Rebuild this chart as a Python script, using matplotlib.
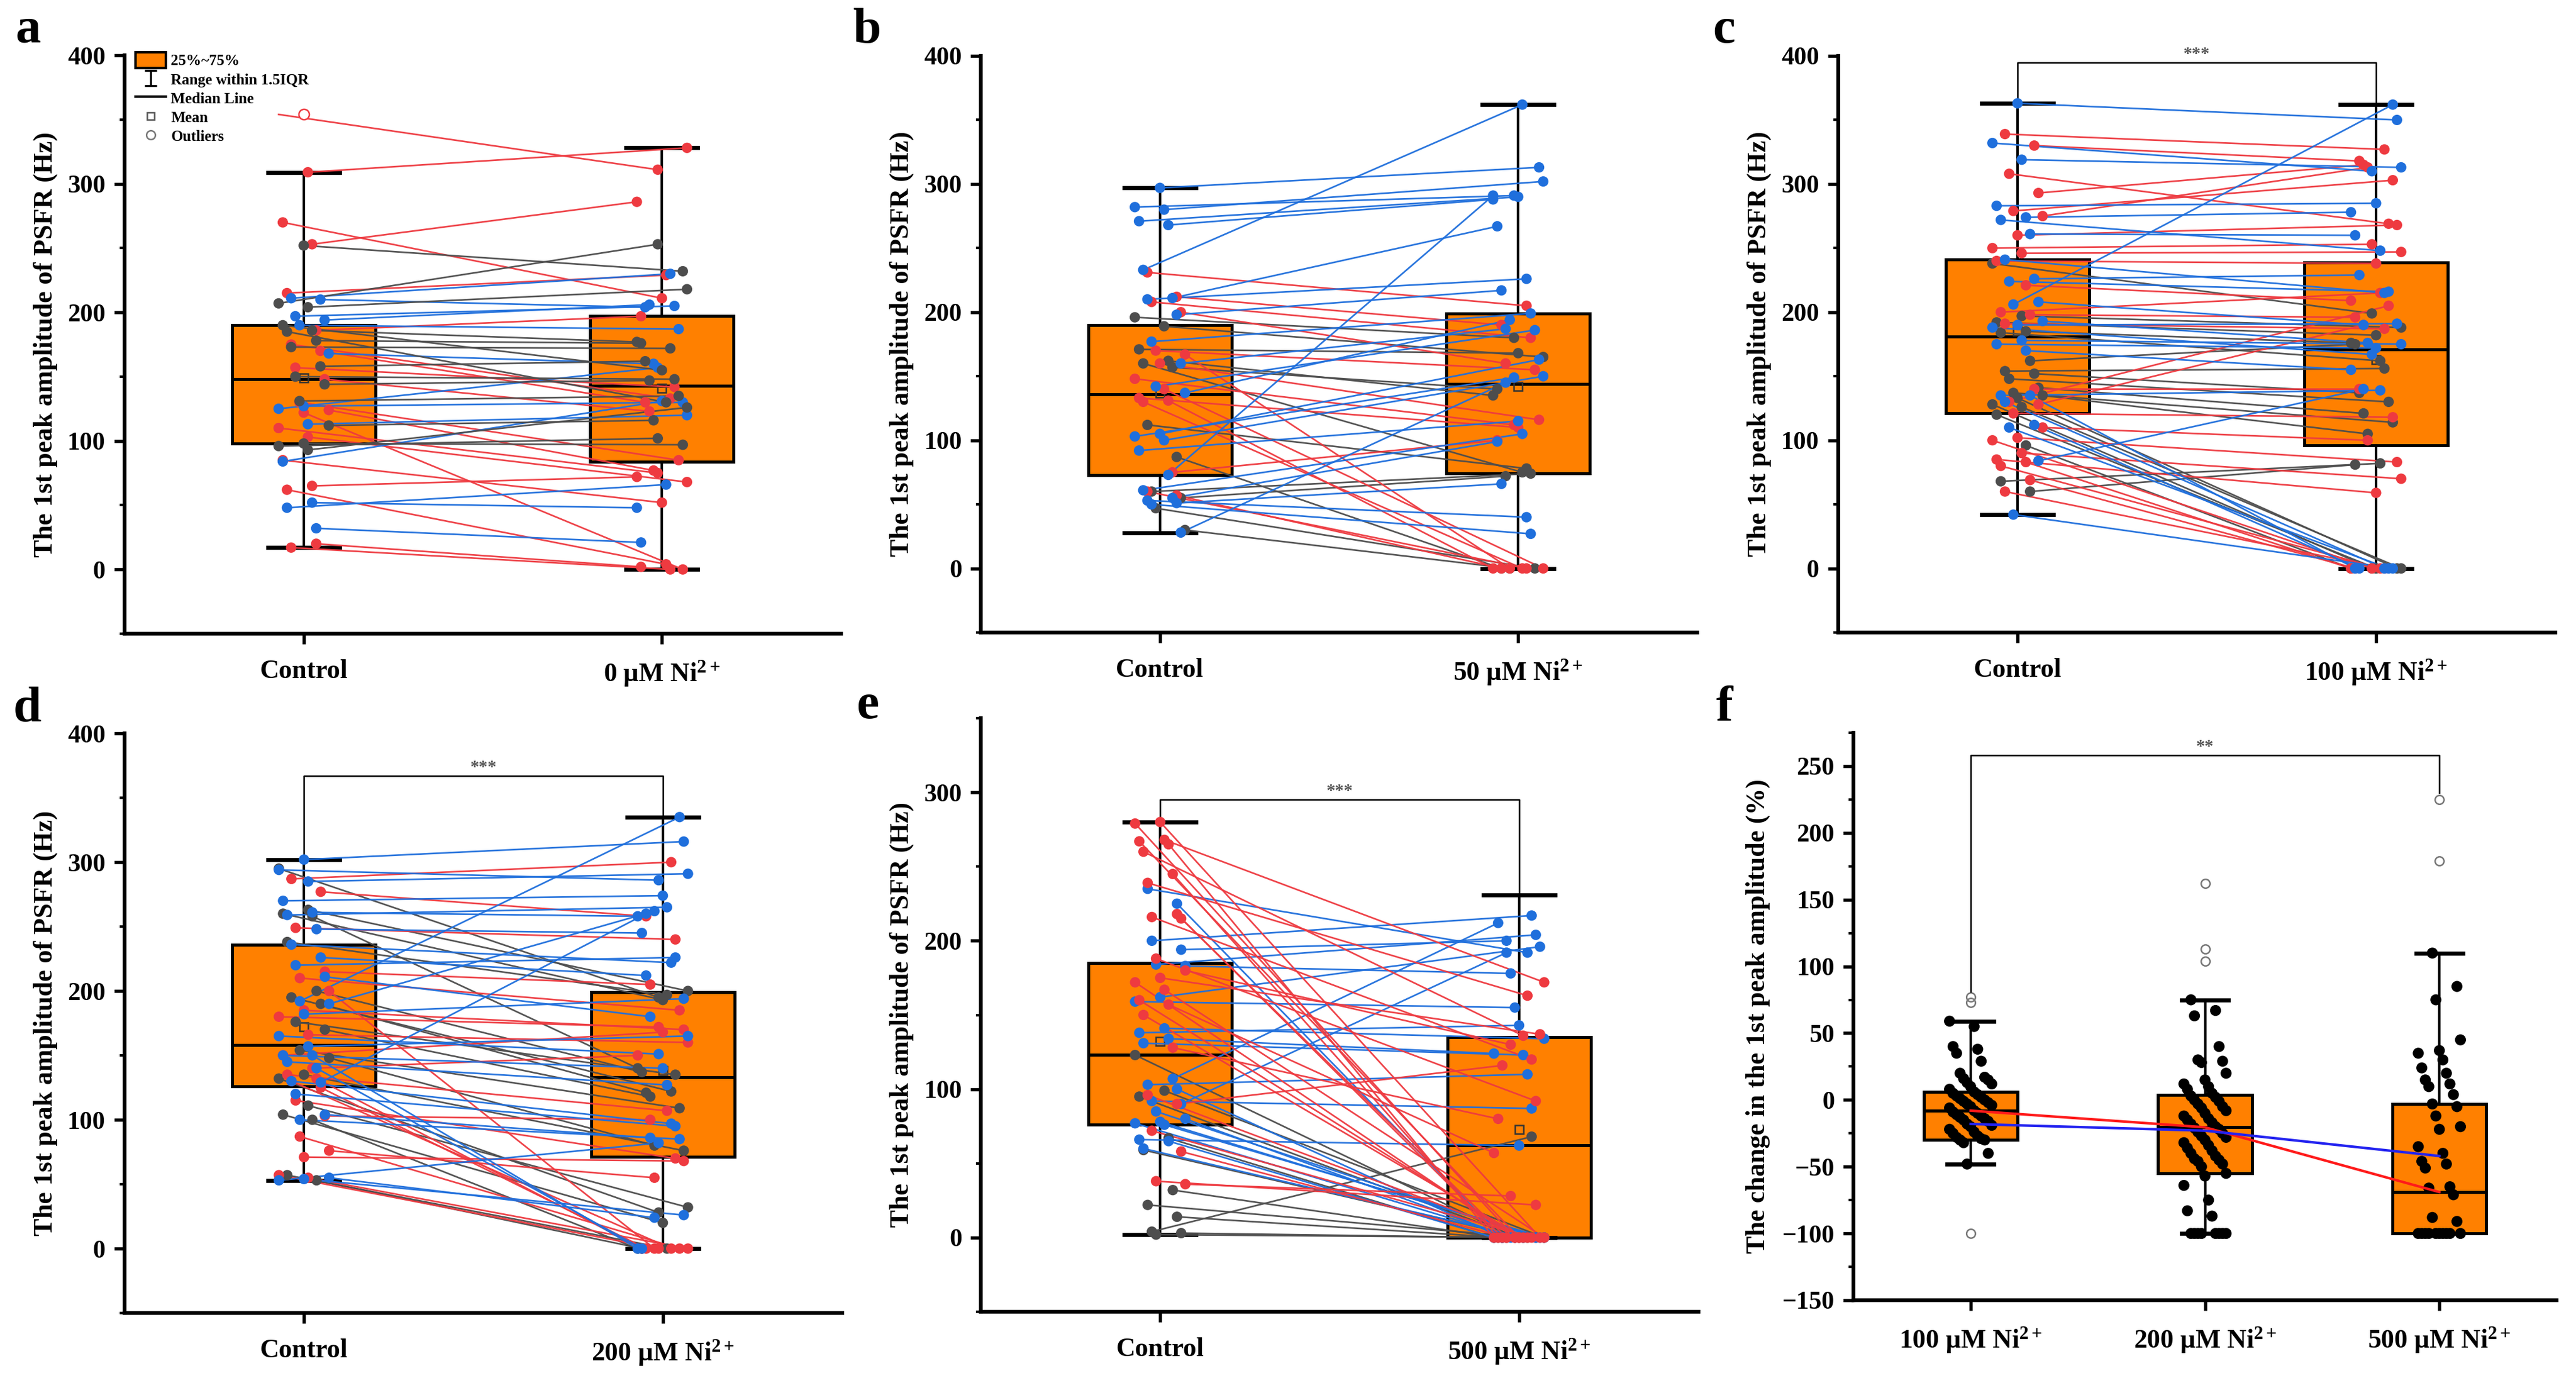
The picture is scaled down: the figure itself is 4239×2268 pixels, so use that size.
import numpy as np
import matplotlib
matplotlib.use('Agg')
import matplotlib.pyplot as plt
from matplotlib.patches import Patch
from matplotlib.lines import Line2D
from matplotlib.ticker import MultipleLocator

# ---------------- data ----------------
# box stats per group: [q1, median, q3, whisker low, whisker high, mean]
a_box_ctrl = [98, 148, 190, 17, 309, 149]
a_box_ni = [84, 143, 197, 0, 328, 141]
b_box_ctrl = [73, 136, 190, 28, 297, 137]
b_box_ni = [74, 144, 199, 0, 362, 142]
c_box_ctrl = [121, 181, 241, 42, 363, 185]
c_box_ni = [96, 171, 239, 0, 362, 163]
d_box_ctrl = [126, 158, 236, 53, 302, 172]
d_box_ni = [71, 133, 199, 0, 335, 138]
e_box_ctrl = [76, 123, 185, 2, 280, 132]
e_box_ni = [0, 62, 135, 0, 231, 73]

# paired cells: control value -> Ni2+ value, split by colour group
a_red_ctrl = [354, 309, 270, 253, 215, 186, 175, 170, 157, 148, 130, 124, 122, 110, 103, 85, 65, 62, 20, 17]
a_red_ni = [311, 328, 211, 286, 229, 197, 133, 130, 142, 123, 85, 77, 0, 75, 68, 52, 72, 4, 2, 0]
a_blue_ctrl = [211, 210, 197, 194, 190, 168, 127, 125, 113, 84, 52, 48, 32]
a_blue_ni = [230, 204, 205, 206, 187, 160, 130, 157, 120, 131, 48, 66, 21]
a_gray_ctrl = [252, 207, 204, 190, 186, 185, 178, 173, 158, 150, 144, 131, 112, 98, 96, 93]
a_gray_ni = [232, 253, 218, 155, 177, 130, 176, 172, 162, 148, 147, 135, 116, 97, 102, 126]

b_red_ctrl = [231, 212, 208, 200, 170, 167, 160, 148, 140, 133, 131, 130, 75, 60, 57]
b_red_ni = [205, 190, 180, 160, 155, 0, 116, 112, 0, 110, 0, 0, 100, 0, 0]
b_blue_ctrl = [297, 282, 280, 271, 268, 233, 211, 210, 198, 177, 160, 142, 137, 105, 103, 100,
               92, 73, 61, 55, 53, 51, 50, 28]
b_blue_ni = [313, 291, 302, 290, 288, 362, 267, 226, 217, 199, 187, 186, 194, 163, 149, 150,
             115, 291, 105, 99, 40, 66, 27, 145]
b_gray_ctrl = [196, 189, 171, 162, 160, 157, 112, 87, 60, 55, 47, 30]
b_gray_ni = [180, 165, 168, 135, 75, 140, 78, 0, 74, 72, 0, 0]

c_red_ctrl = [339, 330, 308, 293, 279, 275, 260, 250, 246, 240, 221, 200, 198, 191, 140, 130, 128,
              121, 110, 102, 100, 90, 85, 83, 80, 69, 60]
c_red_ni = [327, 318, 269, 315, 303, 313, 268, 253, 247, 238, 209, 215, 196, 187, 140, 205, 190,
            118, 100, 83, 0, 70, 59, 0, 0, 0, 0]
c_blue_ctrl = [363, 332, 319, 283, 274, 272, 261, 241, 226, 224, 208, 206, 193, 190, 188, 178, 175,
               170, 135, 135, 130, 112, 110, 84, 42]
c_blue_ni = [350, 310, 313, 285, 278, 248, 260, 215, 229, 216, 190, 362, 176, 191, 167, 175, 172,
             155, 139, 0, 0, 0, 0, 140, 0]
c_gray_ctrl = [238, 197, 192, 185, 184, 162, 154, 152, 148, 141, 137, 135, 133, 128, 126, 120, 96, 68, 60]
c_gray_ni = [199, 188, 182, 176, 162, 175, 156, 137, 130, 121, 114, 105, 0, 0, 0, 0, 0, 82, 81]

d_red_ctrl = [287, 277, 249, 215, 210, 200, 185, 180, 166, 150, 140, 135, 132, 130, 125, 115, 103,
              87, 76, 71, 57, 55]
d_red_ni = [300, 258, 240, 205, 185, 0, 170, 172, 160, 168, 150, 107, 0, 0, 0, 70, 100,
            0, 55, 68, 0, 0]
d_blue_ctrl = [302, 294, 285, 270, 261, 259, 248, 236, 226, 220, 211, 192, 190, 182, 165, 157, 150,
               150, 145, 140, 130, 129, 120, 104, 100, 55, 54, 53]
d_blue_ni = [316, 286, 291, 274, 258, 265, 245, 222, 212, 226, 180, 335, 262, 194, 151, 165, 140,
             0, 127, 0, 97, 260, 95, 86, 85, 24, 26, 82]
d_gray_ctrl = [295, 263, 260, 258, 238, 200, 195, 190, 176, 170, 154, 148, 135, 132, 111, 104, 100, 57, 53]
d_gray_ni = [195, 200, 193, 140, 197, 137, 122, 121, 135, 118, 109, 80, 76, 28, 32, 20, 0, 0, 0]

e_red_ctrl = [280, 279, 268, 267, 265, 260, 245, 239, 218, 216, 215, 188, 180, 175, 172, 167, 160,
              157, 150, 128, 96, 90, 72, 58, 38, 36]
e_red_ni = [0, 0, 172, 0, 0, 136, 0, 163, 0, 120, 0, 92, 130, 137, 0, 0, 0,
            57, 0, 80, 0, 116, 0, 0, 22, 28]
e_blue_ctrl = [235, 225, 200, 194, 184, 183, 162, 159, 141, 138, 134, 131, 107, 103, 100, 92, 90,
               85, 80, 78, 77, 76, 66, 65, 60]
e_blue_ni = [192, 0, 217, 200, 204, 178, 196, 155, 134, 143, 124, 123, 212, 110, 0, 87, 192,
             0, 0, 0, 0, 0, 62, 0, 0]
e_gray_ctrl = [123, 99, 95, 67, 59, 32, 22, 14, 4, 3, 2]
e_gray_ni = [0, 0, 0, 0, 0, 0, 0, 0, 68, 0, 0]

# panel f: % change of the 1st peak amplitude
f_groups = ['100 μM Ni$^{2+}$', '200 μM Ni$^{2+}$', '500 μM Ni$^{2+}$']
f_box_100 = [-30, -8, 6, -48, 59, -18]
f_box_200 = [-55, -20.5, 4, -100, 75, -23]
f_box_500 = [-100, -69, -3, -100, 110, -42]
f_out_100 = [77, 73, -100]
f_out_200 = [162, 113, 104]
f_out_500 = [225, 179]
f_pts_100 = [59, 55, 40, 38, 35, 29, 20, 17, 16, 15, 13, 12, 10, 8, 6, 5, 4, 3, 2, 1, 0, -1, -2, -3,
             -4, -5, -6, -8, -9, -10, -11, -12, -13, -14, -15, -16, -18, -19, -20, -22, -24, -25,
             -27, -28, -29, -30, -30, -32, -40, -48]
f_pts_200 = [75, 67, 63, 40, 30, 29, 28, 20, 15, 12, 10, 8, 5, 3, 2, 0, -1, -3, -5, -6, -8, -10,
             -12, -14, -15, -17, -18, -20, -21, -22, -24, -25, -27, -28, -30, -32, -34, -36, -38,
             -40, -42, -44, -45, -46, -48, -50, -55, -57, -64, -75, -83, -87, -100, -100, -100,
             -100, -100, -100, -100, -100]
f_pts_500 = [110, 85, 75, 45, 37, 35, 30, 24, 20, 15, 12, 10, 4, -3, -5, -12, -20, -22, -35, -40,
             -46, -48, -51, -65, -66, -71, -88, -91, -100, -100, -100, -100, -100, -100, -100,
             -100, -100, -100]

# ---------------- style ----------------
W, H, DPI = 4239, 2268, 300
ORANGE = '#FF8000'
RED = '#EE3A40'
BLUE = '#1F6FDC'
GRAY = '#4D4D4D'

plt.rcParams['font.family'] = ['Liberation Serif', 'DejaVu Serif']
plt.rcParams['font.weight'] = 'bold'
plt.rcParams['mathtext.fontset'] = 'custom'
plt.rcParams['mathtext.rm'] = 'Liberation Serif:bold'
plt.rcParams['mathtext.it'] = 'Liberation Serif:italic:bold'
plt.rcParams['mathtext.bf'] = 'Liberation Serif:bold'

fig = plt.figure(figsize=(W / DPI, H / DPI), dpi=DPI)


def add_ax(left, right, top, bottom):
    return fig.add_axes([left / W, 1 - bottom / H, (right - left) / W, (bottom - top) / H])


def jitter(n, k, amp):
    return np.array([((i * 7 + k) % 13 - 6) / 6.0 * amp for i in range(n)])


def box_stats(vals, fliers=()):
    q1, med, q3, lo, hi, mean = vals
    return dict(q1=q1, med=med, q3=q3, whislo=lo, whishi=hi, mean=mean, fliers=list(fliers))


def draw_boxes(ax, stats, positions, showmeans=True):
    ax.bxp(stats, positions=positions, widths=0.4, capwidths=0.2, showmeans=showmeans,
           patch_artist=True, zorder=1,
           boxprops=dict(facecolor=ORANGE, edgecolor='black', linewidth=1.2),
           medianprops=dict(color='black', linewidth=1.2),
           whiskerprops=dict(color='black', linewidth=1.0),
           capprops=dict(color='black', linewidth=1.6),
           meanprops=dict(marker='s', markerfacecolor='none', markeredgecolor='#333333',
                          markersize=3.5, markeredgewidth=0.6),
           flierprops=dict(marker='o', markerfacecolor='none', markeredgecolor='#777777',
                           markersize=3.5, markeredgewidth=0.6))


def draw_pairs(ax, ctrl, treat, color, k, box_c, box_t):
    xc = 1 + jitter(len(ctrl), k, 0.07)
    xt = 2 + jitter(len(treat), k + 5, 0.07)
    for x0, y0, x1, y1 in zip(xc, ctrl, xt, treat):
        ax.plot([x0, x1], [y0, y1], color=color, lw=0.65, alpha=0.95, zorder=2)
    for xs, ys, box in ((xc, ctrl, box_c), (xt, treat, box_t)):
        xs = np.asarray(xs)
        ys = np.asarray(ys, dtype=float)
        out = (ys > box[4]) | (ys < box[3])
        ax.scatter(xs[~out], ys[~out], s=17, color=color, edgecolors='none', zorder=3)
        ax.scatter(np.ones(out.sum()) * round(xs[0]), ys[out], s=17, facecolors='white',
                   edgecolors=color, linewidths=0.6, zorder=3)


def style_axes(ax, ylim, major, minor, ylabel, label_off):
    for s in ('top', 'right'):
        ax.spines[s].set_visible(False)
    for s in ('left', 'bottom'):
        ax.spines[s].set_linewidth(1.5)
    ax.set_ylim(*ylim)
    ax.yaxis.set_major_locator(MultipleLocator(major))
    ax.yaxis.set_minor_locator(MultipleLocator(minor))
    ax.tick_params(axis='both', which='major', direction='out', length=4, width=1.3, labelsize=10)
    ax.tick_params(axis='y', which='minor', direction='out', length=2, width=1.0)
    ax.tick_params(axis='x', which='major', pad=6, labelsize=10.5)
    ax.set_ylabel(ylabel, fontsize=10.5, fontweight='bold')
    ax.yaxis.set_label_coords(label_off, 0.5)


def bracket(ax, hi_left, hi_right, y, text, x0=1, x1=2):
    ax.plot([x0, x0, x1, x1], [hi_left, y, y, hi_right], color='black', lw=0.6, zorder=2)
    ax.text((x0 + x1) / 2, y, text, ha='center', va='bottom', color='#555555', fontsize=7)


YLAB = 'The 1st peak amplitude of PSFR (Hz)'
panels = [
    ('a', (205, 1384, 91, 1043), (-50, 400), '0 μM Ni$^{2+}$', a_box_ctrl, a_box_ni,
     [(a_red_ctrl, a_red_ni, RED), (a_blue_ctrl, a_blue_ni, BLUE), (a_gray_ctrl, a_gray_ni, GRAY)],
     None, (25, 70)),
    ('b', (1614, 2793, 92, 1041), (-50, 400), '50 μM Ni$^{2+}$', b_box_ctrl, b_box_ni,
     [(b_gray_ctrl, b_gray_ni, GRAY), (b_red_ctrl, b_red_ni, RED), (b_blue_ctrl, b_blue_ni, BLUE)],
     None, (1404, 70)),
    ('c', (3025, 4205, 92, 1041), (-50, 400), '100 μM Ni$^{2+}$', c_box_ctrl, c_box_ni,
     [(c_gray_ctrl, c_gray_ni, GRAY), (c_red_ctrl, c_red_ni, RED), (c_blue_ctrl, c_blue_ni, BLUE)],
     395, (2818, 70)),
    ('d', (205, 1386, 1207, 2161), (-50, 400), '200 μM Ni$^{2+}$', d_box_ctrl, d_box_ni,
     [(d_gray_ctrl, d_gray_ni, GRAY), (d_red_ctrl, d_red_ni, RED), (d_blue_ctrl, d_blue_ni, BLUE)],
     367, (22, 1187)),
    ('e', (1614, 2795, 1182, 2159), (-50, 350), '500 μM Ni$^{2+}$', e_box_ctrl, e_box_ni,
     [(e_gray_ctrl, e_gray_ni, GRAY), (e_blue_ctrl, e_blue_ni, BLUE), (e_red_ctrl, e_red_ni, RED)],
     295, (1409, 1182)),
]

for letter, rect, ylim, ni_label, box_c, box_t, groups, sig_y, lpos in panels:
    ax = add_ax(*rect)
    draw_boxes(ax, [box_stats(box_c), box_stats(box_t)], [1, 2])
    for k, (ctrl, treat, color) in enumerate(groups):
        draw_pairs(ax, ctrl, treat, color, 3 * k, box_c, box_t)
    ax.set_xlim(0.5, 2.5)
    ax.set_xticks([1, 2])
    ax.set_xticklabels(['Control', ni_label])
    style_axes(ax, ylim, 100, 50, YLAB, -110 / (rect[1] - rect[0]))
    if sig_y is not None:
        bracket(ax, box_c[4], box_t[4], sig_y, '***')
    fig.text(lpos[0] / W, 1 - lpos[1] / H, letter, fontsize=20, fontweight='bold',
             ha='left', va='baseline')
    if letter == 'a':
        eb = ax.errorbar([np.nan], [np.nan], yerr=[[1], [1]], fmt='none', ecolor='black',
                         elinewidth=0.8, capsize=2.5, capthick=0.8)
        handles = [Patch(facecolor=ORANGE, edgecolor='black', linewidth=1.0), eb,
                   Line2D([], [], color='black', lw=1.0),
                   Line2D([], [], ls='none', marker='s', mfc='none', mec='#555555', ms=3, mew=0.6),
                   Line2D([], [], ls='none', marker='o', mfc='none', mec='#777777', ms=3.5, mew=0.6)]
        labels = ['25%~75%', 'Range within 1.5IQR', 'Median Line', 'Mean', 'Outliers']
        ax.legend(handles, labels, loc='upper left', bbox_to_anchor=(0.015, 1.005), frameon=False,
                  prop=dict(family='Liberation Serif', weight='bold', size=6),
                  handlelength=2.0, handleheight=1.2, handletextpad=0.35, labelspacing=0.2,
                  borderaxespad=0, borderpad=0)

# ---------------- panel f ----------------
axf = add_ax(3050, 4207, 1206, 2140)
f_boxes = [f_box_100, f_box_200, f_box_500]
f_outs = [f_out_100, f_out_200, f_out_500]
f_pts = [f_pts_100, f_pts_200, f_pts_500]
draw_boxes(axf, [box_stats(b, o) for b, o in zip(f_boxes, f_outs)], [1, 2, 3], showmeans=False)
for i, pts in enumerate(f_pts):
    axf.scatter(i + 1 + jitter(len(pts), 2 * i, 0.09), pts, s=19, color='black',
                edgecolors='none', zorder=3)
axf.plot([1, 2, 3], [b[1] for b in f_boxes], color='#FF1A1A', lw=1.0, zorder=4)
axf.plot([1, 2, 3], [b[5] for b in f_boxes], color='#2323F0', lw=1.0, zorder=4)
axf.set_xlim(0.5, 3.5)
axf.set_xticks([1, 2, 3])
axf.set_xticklabels(f_groups)
style_axes(axf, (-150, 275), 50, 25, 'The change in the 1st peak amplitude (%)', -137 / (4207 - 3050))
bracket(axf, 81, 230, 258, '**', 1, 3)
fig.text(2823 / W, 1 - 1186 / H, 'f', fontsize=20, fontweight='bold', ha='left', va='baseline')

fig.savefig('out.png', dpi=DPI)
